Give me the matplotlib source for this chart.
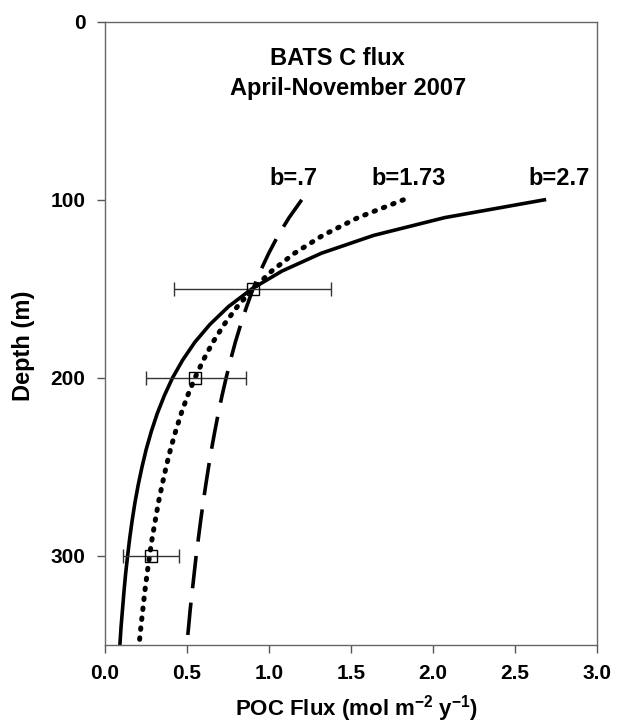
import numpy as np
import matplotlib.pyplot as plt

plt.rcParams['font.family'] = ['Liberation Sans', 'DejaVu Sans']
plt.rcParams['font.weight'] = 'bold'
plt.rcParams['mathtext.fontset'] = 'custom'
plt.rcParams['mathtext.rm'] = 'Liberation Sans:bold'
plt.rcParams['mathtext.bf'] = 'Liberation Sans:bold'
plt.rcParams['mathtext.default'] = 'bf'

# Martin curves (depth in m, flux in mol m-2 y-1)
depth = [100, 110, 120, 130, 140, 150, 160, 170, 180, 190, 200,
         210, 220, 230, 240, 250, 260, 270, 280, 290, 300,
         310, 320, 330, 340, 350]
flux_b27 = [2.680, 2.072, 1.638, 1.320, 1.080, 0.896, 0.753, 0.640, 0.548, 0.474, 0.412,
            0.362, 0.319, 0.283, 0.252, 0.226, 0.203, 0.183, 0.166, 0.151, 0.138,
            0.126, 0.116, 0.107, 0.098, 0.091]
flux_b173 = [1.820, 1.543, 1.328, 1.156, 1.017, 0.903, 0.807, 0.727, 0.658, 0.600, 0.549,
             0.504, 0.465, 0.431, 0.400, 0.373, 0.349, 0.326, 0.307, 0.288, 0.272,
             0.257, 0.243, 0.231, 0.219, 0.208]
flux_b07 = [1.200, 1.123, 1.056, 0.999, 0.948, 0.903, 0.864, 0.828, 0.795, 0.766, 0.739,
            0.714, 0.691, 0.670, 0.650, 0.632, 0.615, 0.599, 0.584, 0.570, 0.556,
            0.544, 0.532, 0.520, 0.510, 0.499]

# trap measurements
obs_depth = [150, 200, 300]
obs_flux = [0.90, 0.55, 0.28]
obs_lo = [0.42, 0.25, 0.11]
obs_hi = [1.38, 0.86, 0.45]

fig = plt.figure(figsize=(6.23, 7.27), dpi=100)
ax = fig.add_axes([0.1685, 0.113, 0.7895, 0.857])

ax.plot(flux_b27, depth, '-', color='black', lw=2.6)
ax.plot(flux_b173, depth, ':', color='black', lw=3.6, dashes=(0.3, 1.7),
        dash_capstyle='round')
ax.plot(flux_b07, depth, '-', color='black', lw=2.6, dashes=(9, 4))

xerr = [np.array(obs_flux) - np.array(obs_lo), np.array(obs_hi) - np.array(obs_flux)]
ax.errorbar(obs_flux, obs_depth, xerr=xerr, fmt='s', mfc='none', mec='black',
            ms=8, mew=1.0, ecolor='#333333', elinewidth=1.0, capsize=5, capthick=1.0)

ax.text(1.15, 88, 'b=.7', fontsize=17, ha='center', va='center')
ax.text(1.85, 88, 'b=1.73', fontsize=17, ha='center', va='center')
ax.text(2.77, 88, 'b=2.7', fontsize=17, ha='center', va='center')
ax.text(1.42, 20.5, 'BATS C flux', fontsize=17, ha='center', va='center')
ax.text(1.48, 37.5, 'April-November 2007', fontsize=17, ha='center', va='center')

ax.set_xlim(0, 3.0)
ax.set_ylim(350, 0)
ax.set_xticks(np.arange(0, 3.01, 0.5))
ax.set_xticklabels(['%.1f' % v for v in np.arange(0, 3.01, 0.5)])
ax.set_yticks([0, 100, 200, 300])
ax.tick_params(axis='both', labelsize=15, direction='out', length=6,
               color='#555555', width=1, pad=8)
for s in ax.spines.values():
    s.set_color('#666666')
    s.set_linewidth(1)

ax.set_xlabel(r'POC Flux (mol m$^{-2}$ y$^{-1}$)', fontsize=16, fontweight='bold')
ax.set_ylabel('Depth (m)', fontsize=17, fontweight='bold')
ax.xaxis.set_label_coords(0.512, -0.078)
ax.yaxis.set_label_coords(-0.142, 0.48)

fig.savefig('out.png', dpi=100)
